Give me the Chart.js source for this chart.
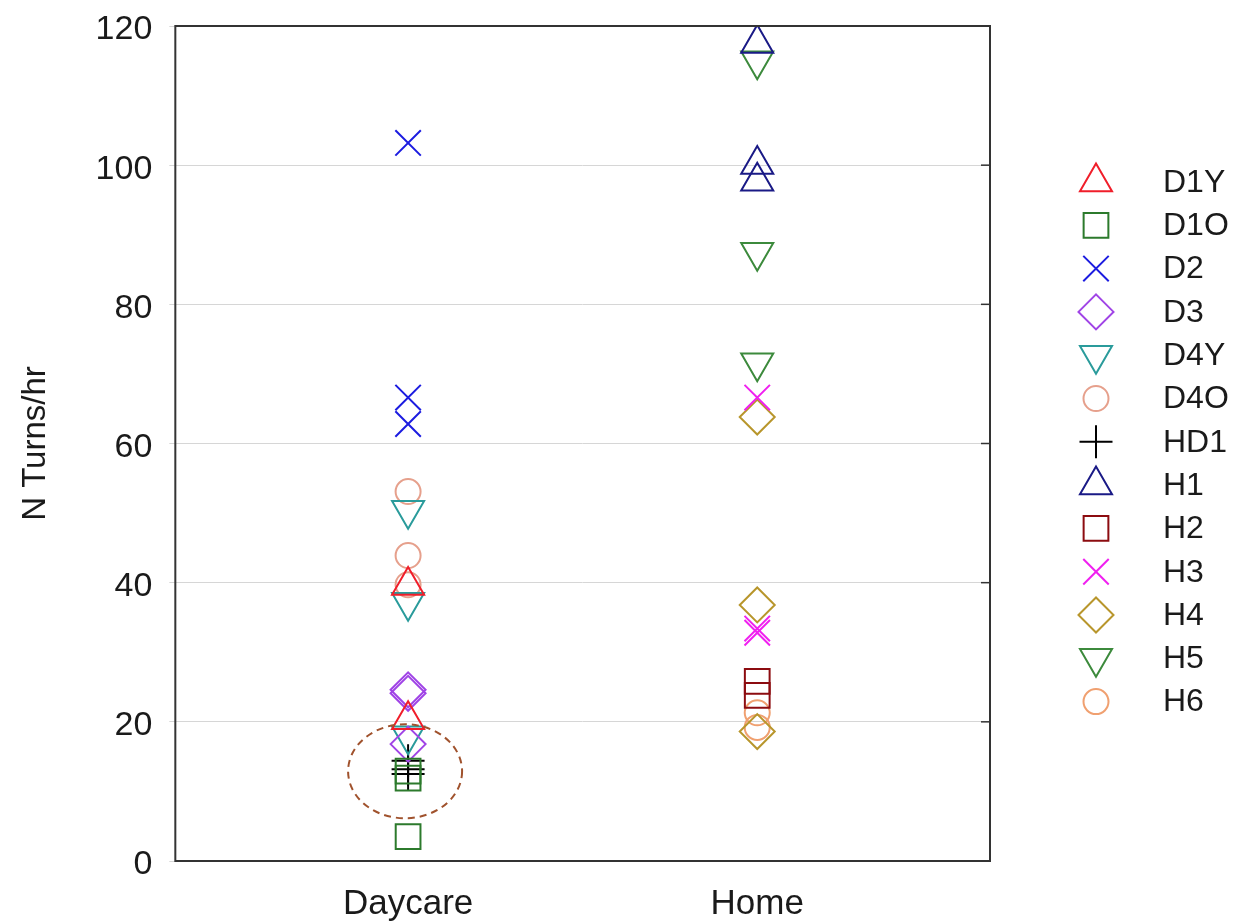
<!DOCTYPE html>
<html>
<head>
<meta charset="utf-8">
<script src="https://cdn.jsdelivr.net/npm/chart.js@4/dist/chart.umd.min.js"></script>
<style>
  html, body { margin: 0; padding: 0; background: #fff; }
  #chartHolder { width: 1239px; height: 924px; }
</style>
</head>
<body>
<div id="chartHolder"><canvas id="turnsChart" width="1239" height="924"></canvas></div>
<script>
const categories = ["Daycare", "Home"];
const yTicks = [0, 20, 40, 60, 80, 100, 120];
const seriesNames = ["D1Y", "D1O", "D2", "D3", "D4Y", "D4O", "HD1", "H1", "H2", "H3", "H4", "H5", "H6"];

// each series: [values at Daycare, values at Home]
const D1Y = [[39.6, 20.3], []];
const D1O = [[12.9, 11.9, 3.5], []];
const D2 = [[103.2, 66.6, 62.8], []];
const D3 = [[24.6, 24.1, 16.8], []];
const D4Y = [[50.4, 37.2, 18.0], []];
const D4O = [[53.1, 43.9, 39.7], []];
const HD1 = [[14.4, 13.2, 12.5], []];
const H1 = [[], [117.5, 100.1, 97.7]];
const H2 = [[], [25.8, 23.8]];
const H3 = [[], [66.6, 33.4, 32.8]];
const H4 = [[], [63.8, 36.8, 18.6]];
const H5 = [[], [115.0, 87.5, 71.6]];
const H6 = [[], [21.3, 19.2]];
const seriesValues = [D1Y, D1O, D2, D3, D4Y, D4O, HD1, H1, H2, H3, H4, H5, H6];

const seriesColors = ["#f01e2a", "#2c7a2c", "#1c1ce0", "#a044e6", "#2a9b9b", "#e6a08c", "#000000", "#1a1a86", "#8c0c10", "#f020f0", "#b8962c", "#3c8a3c", "#f0a070"];
const seriesStyles = ["triangle", "rect", "crossRot", "rectRot", "triangle", "circle", "cross", "triangle", "rect", "crossRot", "rectRot", "triangle", "circle"];
const seriesRotation = [0, 0, 0, 0, 180, 0, 0, 0, 0, 0, 0, 180, 0];
const seriesRadius = [18.5, 17.5, 18, 17.5, 18.5, 12.5, 16.5, 18.5, 17.5, 18, 17.5, 18.5, 12.5];

const fontFamily = "'Liberation Sans', Arial, sans-serif";

const frameLines = {
  id: "frameLines",
  afterDatasetsDraw(chart) {
    const { ctx, chartArea: { left, right, top, bottom }, scales: { y, x } } = chart;
    ctx.save();
    ctx.strokeStyle = "#333333";
    ctx.lineWidth = 2;
    ctx.strokeRect(left, top, right - left, bottom - top);
    ctx.lineWidth = 1.5;
    yTicks.forEach((tickValue) => {
      const py = y.getPixelForValue(tickValue);
      ctx.beginPath();
      ctx.moveTo(right - 9, py);
      ctx.lineTo(right, py);
      ctx.stroke();
    });
    // dashed ring around the HD1 cluster
    ctx.strokeStyle = "#a0522d";
    ctx.lineWidth = 2;
    ctx.setLineDash([7, 5]);
    ctx.beginPath();
    ctx.ellipse(x.getPixelForValue(0) - 3, y.getPixelForValue(12.9), 57, 47, 0, 0, Math.PI * 2);
    ctx.stroke();
    ctx.restore();
  }
};

const sideLegend = {
  id: "sideLegend",
  afterDraw(chart) {
    const { ctx } = chart;
    ctx.save();
    chart.data.datasets.forEach((dataset, index) => {
      const rowY = 182 + index * 43.3;
      ctx.strokeStyle = dataset.borderColor;
      ctx.fillStyle = "rgba(0,0,0,0)";
      ctx.lineWidth = 2;
      Chart.helpers.drawPoint(ctx, {
        pointStyle: dataset.pointStyle,
        radius: dataset.pointRadius,
        rotation: dataset.pointRotation,
        borderWidth: 2
      }, 1096, rowY);
      ctx.fillStyle = "#1a1a1a";
      ctx.font = "32px " + fontFamily;
      ctx.textBaseline = "middle";
      ctx.textAlign = "left";
      ctx.fillText(dataset.label, 1163, rowY + 1);
    });
    ctx.restore();
  }
};

const datasets = seriesNames.map((name, index) => ({
  label: name,
  data: seriesValues[index].flatMap((values, categoryIndex) => values.map((value) => ({ x: categoryIndex, y: value }))),
  showLine: false,
  borderColor: seriesColors[index],
  backgroundColor: "rgba(0,0,0,0)",
  pointStyle: seriesStyles[index],
  pointRotation: seriesRotation[index],
  pointRadius: seriesRadius[index],
  pointHoverRadius: seriesRadius[index],
  pointBorderWidth: 2
}));

new Chart(document.getElementById("turnsChart"), {
  type: "scatter",
  data: { datasets },
  options: {
    responsive: false,
    animation: false,
    layout: { padding: { left: 16, right: 249, top: 26, bottom: -23 } },
    plugins: {
      legend: { display: false },
      tooltip: { enabled: false }
    },
    scales: {
      x: {
        type: "linear",
        min: -2 / 3,
        max: 5 / 3,
        afterBuildTicks: (axis) => {
          axis.ticks = categories.map((c, i) => ({ value: i }));
        },
        ticks: {
          callback: (value) => categories[value],
          font: { size: 35, family: fontFamily },
          color: "#1a1a1a",
          padding: 22,
          maxRotation: 0,
          autoSkip: false
        },
        grid: { display: false, drawTicks: false },
        border: { display: false }
      },
      y: {
        min: 0,
        max: 120,
        afterBuildTicks: (axis) => {
          axis.ticks = yTicks.map((v) => ({ value: v }));
        },
        ticks: {
          font: { size: 34, family: fontFamily, lineHeight: 0.5 },
          color: "#1a1a1a",
          padding: 17,
          labelOffset: 4
        },
        grid: { color: "#d6d6d6", lineWidth: 1, tickLength: 6 },
        border: { display: false },
        title: {
          display: true,
          text: "N Turns/hr",
          font: { size: 33, family: fontFamily },
          color: "#1a1a1a",
          padding: { top: 0, bottom: 23 }
        }
      }
    }
  },
  plugins: [frameLines, sideLegend]
});
</script>
</body>
</html>
